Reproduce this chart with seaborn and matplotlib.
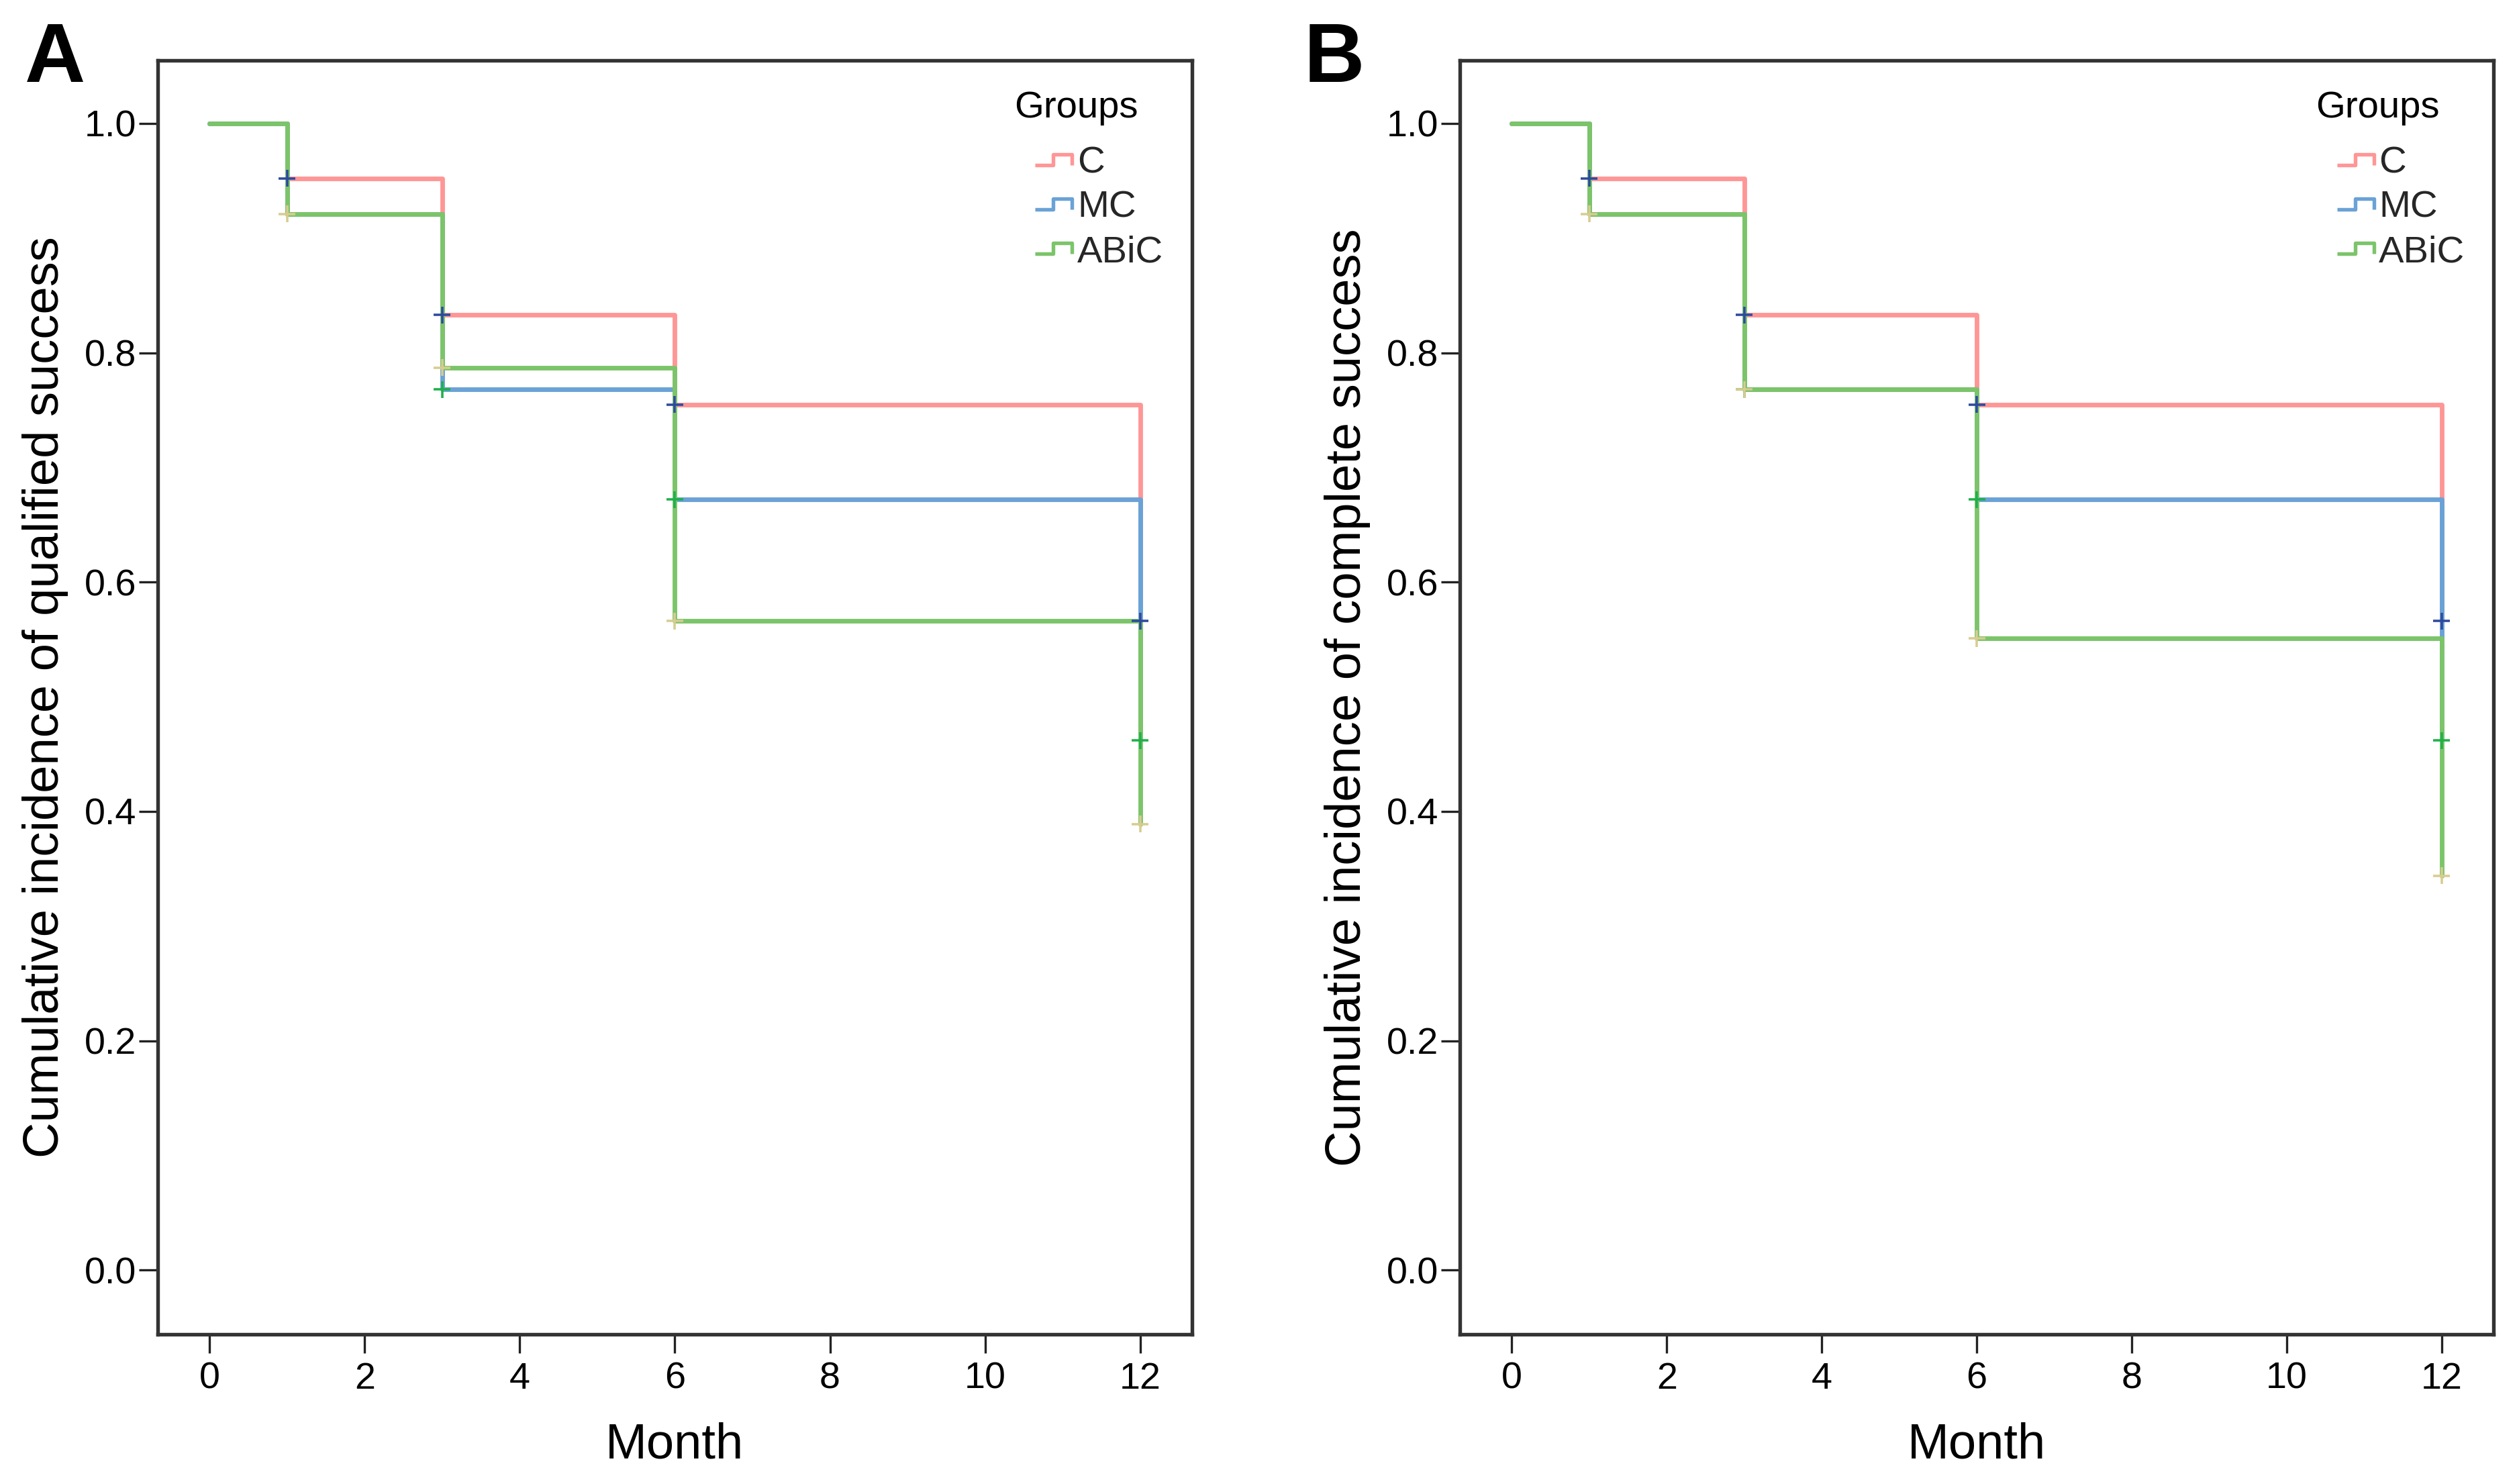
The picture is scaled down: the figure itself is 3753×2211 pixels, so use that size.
import numpy as np
import pandas as pd
import matplotlib
matplotlib.use("Agg")
import matplotlib.pyplot as plt
from matplotlib.path import Path
from matplotlib.markers import MarkerStyle
from matplotlib.lines import Line2D
import seaborn as sns

# ---------------- data ----------------
months = [0, 1, 3, 6, 12]
groups = ["C", "MC", "ABiC"]

# Panel A: cumulative incidence of qualified success
a_C = [1.000, 0.952, 0.833, 0.755, 0.566]
a_MC = [1.000, 0.921, 0.768, 0.672, 0.462]
a_ABiC = [1.000, 0.921, 0.787, 0.566, 0.389]

# Panel B: cumulative incidence of complete success
b_C = [1.000, 0.952, 0.833, 0.755, 0.566]
b_MC = [1.000, 0.921, 0.768, 0.672, 0.462]
b_ABiC = [1.000, 0.921, 0.768, 0.551, 0.344]

# months with censored marks, per group
cens_C = [1, 3, 6, 12]
cens_MC = [3, 6, 12]
cens_ABiC = [1, 3, 6, 12]

x_ticks = [0, 2, 4, 6, 8, 10, 12]
y_ticks = [0.0, 0.2, 0.4, 0.6, 0.8, 1.0]
ylabel_A = "Cumulative incidence of qualified success"
ylabel_B = "Cumulative incidence of complete success"
legend_title = "Groups"

line_colors = {"C": "#FF9696", "MC": "#6AA2D6", "ABiC": "#7CC46A"}
censor_colors = {"C": "#2E4A9E", "MC": "#1FB04A", "ABiC": "#D8CC90"}

# ---------------- style ----------------
sns.set_style("ticks")
plt.rcParams["font.family"] = ["Liberation Sans", "DejaVu Sans"]

W, H, DPI = 3753, 2211, 300
fig = plt.figure(figsize=(W / DPI, H / DPI), dpi=DPI)
fig.patch.set_facecolor("white")

FS_TICK = 13.4
FS_LABEL = 17.8
FS_LEG = 13.5

step_marker = MarkerStyle(
    Path([(-0.31, -0.18), (0.33, -0.18), (0.33, 0.18), (1.0, 0.18), (1.0, -0.18)],
         [Path.MOVETO, Path.LINETO, Path.LINETO, Path.LINETO, Path.LINETO]),
    joinstyle="miter", capstyle="butt")


def draw_panel(ax, vals, ylabel, letter, letter_x):
    rows = []
    for g in groups:
        for m, v in zip(months, vals[g]):
            rows.append({"Month": m, "S": v, "Group": g})
    df = pd.DataFrame(rows)

    cens = {"C": cens_C, "MC": cens_MC, "ABiC": cens_ABiC}
    crow = []
    for g in groups:
        for m in cens[g]:
            crow.append({"Month": m, "S": vals[g][months.index(m)], "Group": g})
    cdf = pd.DataFrame(crow)

    sns.lineplot(data=df, x="Month", y="S", hue="Group", hue_order=groups,
                 palette=line_colors, drawstyle="steps-post", linewidth=1.65,
                 estimator=None, legend=False, ax=ax)
    sns.scatterplot(data=cdf, x="Month", y="S", hue="Group", hue_order=groups,
                    palette=censor_colors, marker="+", s=36, linewidth=0.85,
                    legend=False, ax=ax, zorder=5)

    ax.set_xlim(-0.67, 12.67)
    ax.set_ylim(-0.056, 1.055)
    ax.set_xticks(x_ticks)
    ax.set_xticklabels([str(t) for t in x_ticks])
    ax.set_yticks(y_ticks)
    ax.set_yticklabels([f"{t:.1f}" for t in y_ticks])
    ax.tick_params(axis="both", direction="out", length=6.8, width=0.8,
                   color="#222222", labelsize=FS_TICK, labelcolor="black")
    ax.tick_params(axis="x", pad=3.0)
    ax.tick_params(axis="y", pad=0.8)
    for sp in ax.spines.values():
        sp.set_visible(True)
        sp.set_color("#333333")
        sp.set_linewidth(1.3)

    ax.set_xlabel("Month", fontsize=FS_LABEL, color="black")
    ax.xaxis.set_label_coords(0.5, -0.0685)
    ax.set_ylabel(ylabel, fontsize=FS_LABEL, color="black")
    ax.yaxis.set_label_coords(-0.0863, 0.5)

    handles = [Line2D([], [], linestyle="none", marker=step_marker, markersize=20.2,
                      markerfacecolor="none", markeredgecolor=line_colors[g],
                      markeredgewidth=1.3) for g in groups]
    ax.legend(handles, groups, loc="upper left", bbox_to_anchor=(0.83, 0.9326),
              frameon=False, borderpad=0, borderaxespad=0, handlelength=1.47,
              handletextpad=0.15, labelspacing=0.25, fontsize=FS_LEG)
    ax.text(0.828, 0.9552, legend_title, transform=ax.transAxes, fontsize=FS_LEG,
            ha="left", va="baseline", color="black")

    fig.text(letter_x, 1 - 122 / H, letter, fontsize=30, fontweight="bold",
             ha="left", va="baseline", color="black")


axA = fig.add_axes([235 / W, 1 - 1988 / H, 1541 / W, 1898 / H])
axB = fig.add_axes([2175 / W, 1 - 1988 / H, 1540 / W, 1898 / H])

draw_panel(axA, {"C": a_C, "MC": a_MC, "ABiC": a_ABiC}, ylabel_A, "A", 37 / W)
draw_panel(axB, {"C": b_C, "MC": b_MC, "ABiC": b_ABiC}, ylabel_B, "B", 1943 / W)

fig.savefig("out.png", dpi=DPI, facecolor="white")
